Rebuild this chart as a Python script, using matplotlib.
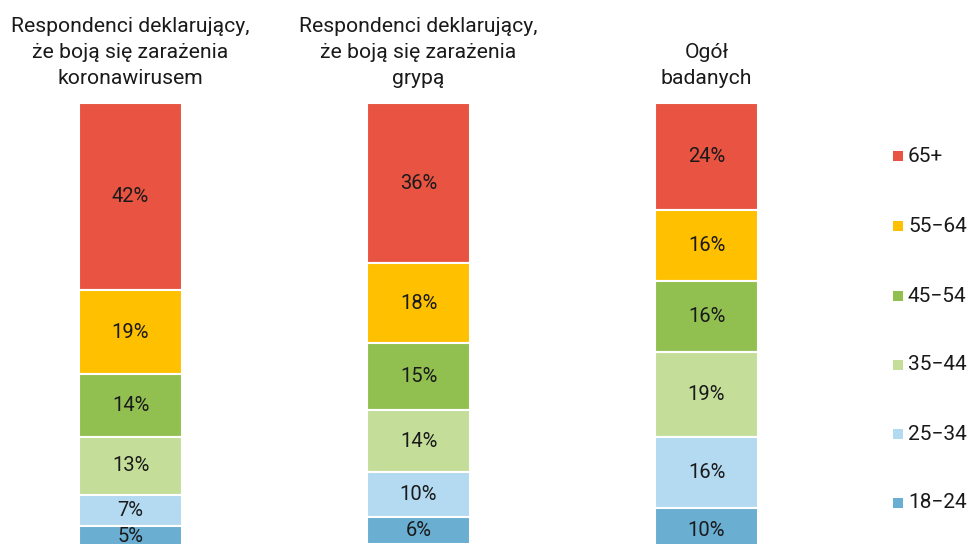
import matplotlib
matplotlib.use("Agg")
import matplotlib.pyplot as plt
from matplotlib.patches import Rectangle
import numpy as np

plt.rcParams['font.family'] = ['Roboto', 'DejaVu Sans']

groups = ["Respondenci deklarujący,\nże boją się zarażenia\nkoronawirusem",
          "Respondenci deklarujący,\nże boją się zarażenia\ngrypą",
          "Ogół\nbadanych"]
age_labels = ["65+", "55\u221264", "45\u221254", "35\u221244", "25\u221234", "18\u221224"]
values = {
    "65+":   [42, 36, 24],
    "55-64": [19, 18, 16],
    "45-54": [14, 15, 16],
    "35-44": [13, 14, 19],
    "25-34": [7, 10, 16],
    "18-24": [5, 6, 10],
}
colors = ["#E85441", "#FFC000", "#92C050", "#C4DE9A", "#B3DAF1", "#6AAED2"]

W, H = 973, 544
fig = plt.figure(figsize=(W / 100, H / 100), dpi=100)
ax_left, ax_right = 0, 860
ax_top, ax_bot = 103, 548
ax = fig.add_axes([ax_left / W, 1 - ax_bot / H, (ax_right - ax_left) / W, (ax_bot - ax_top) / H])
x = np.arange(len(groups))
ax.set_xlim(-130.5 / 288, (860 - 130.5) / 288)
ax.set_ylim(100, 0)
ax.axis('off')

bottoms = np.zeros(len(groups))
for key, col in zip(values.keys(), colors):
    v = np.array(values[key], dtype=float)
    ax.bar(x, v, bottom=bottoms, width=103 / 288, color=col,
           edgecolor='white', linewidth=1.5)
    for xi, vi, bi in zip(x, v, bottoms):
        ax.text(xi, bi + vi / 2, f"{int(vi)}%", ha='center', va='center',
                fontsize=14.5, color='#1a1a1a', clip_on=False)
    bottoms += v

for xi, g in zip(x, groups):
    ax.annotate(g, xy=(xi, 0), xycoords='data', xytext=(0, 11), textcoords='offset points',
                ha='center', va='bottom', fontsize=15.2, color='#1a1a1a',
                linespacing=1.45, annotation_clip=False)

# legend
leg_y = [156, 226, 296, 365, 434, 503]
for lab, col, yy in zip(age_labels, colors, leg_y):
    fig.add_artist(Rectangle((893 / W, 1 - (yy + 5) / H), 10 / W, 10 / H,
                             transform=fig.transFigure, facecolor=col, edgecolor='none'))
    fig.text(908 / W, 1 - yy / H, lab, ha='left', va='center', fontsize=15, color='#1a1a1a')

fig.savefig("out.png", dpi=100)
